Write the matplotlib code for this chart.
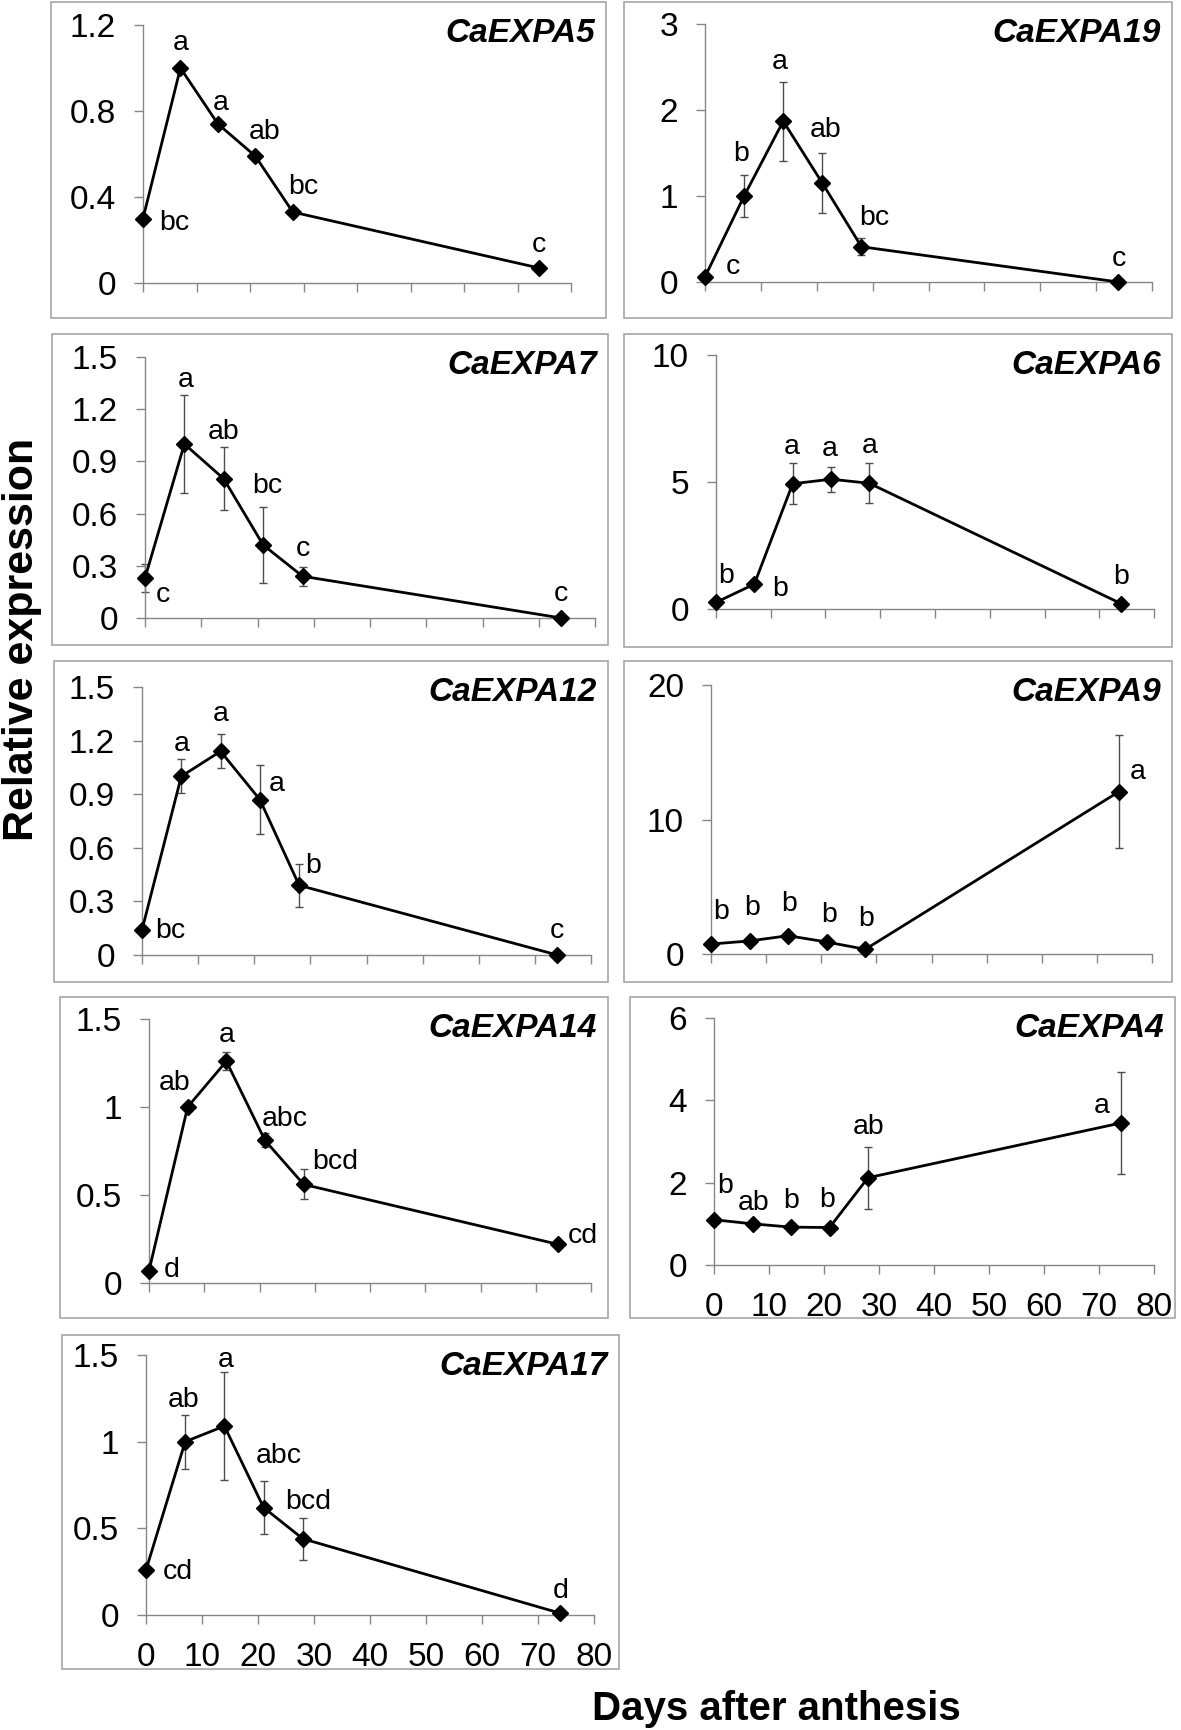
import matplotlib
matplotlib.use("Agg")
import matplotlib.pyplot as plt
from matplotlib.patches import Rectangle

plt.rcParams['font.family'] = ['Liberation Sans', 'DejaVu Sans']

# ── data ──
days = [0, 7, 14, 21, 28, 74]
x_ticks = [0, 10, 20, 30, 40, 50, 60, 70, 80]

genes = ["CaEXPA5", "CaEXPA19", "CaEXPA7", "CaEXPA6", "CaEXPA12",
         "CaEXPA9", "CaEXPA14", "CaEXPA4", "CaEXPA17"]

expa5 = [0.30, 1.00, 0.74, 0.59, 0.33, 0.07]
expa5_err = [0, 0, 0, 0, 0, 0]
expa5_sig = ["bc", "a", "a", "ab", "bc", "c"]

expa19 = [0.06, 1.00, 1.87, 1.15, 0.41, 0.0]
expa19_err = [0.03, 0.24, 0.46, 0.35, 0.10, 0]
expa19_sig = ["c", "b", "a", "ab", "bc", "c"]

expa7 = [0.23, 1.00, 0.80, 0.42, 0.24, 0.0]
expa7_err = [0.08, 0.28, 0.18, 0.22, 0.055, 0]
expa7_sig = ["c", "a", "ab", "bc", "c", "c"]

expa6 = [0.26, 0.98, 4.93, 5.11, 4.95, 0.21]
expa6_err = [0, 0, 0.8, 0.5, 0.78, 0]
expa6_sig = ["b", "b", "a", "a", "a", "b"]

expa12 = [0.14, 1.00, 1.14, 0.87, 0.39, 0.0]
expa12_err = [0, 0.095, 0.095, 0.195, 0.12, 0]
expa12_sig = ["bc", "a", "a", "a", "b", "c"]

expa9 = [0.74, 0.97, 1.36, 0.89, 0.35, 12.07]
expa9_err = [0, 0, 0, 0, 0, 4.2]
expa9_sig = ["b", "b", "b", "b", "b", "a"]

expa14 = [0.07, 1.00, 1.26, 0.81, 0.56, 0.22]
expa14_err = [0.02, 0, 0.05, 0.04, 0.085, 0]
expa14_sig = ["d", "ab", "a", "abc", "bcd", "cd"]

expa4 = [1.10, 1.00, 0.92, 0.91, 2.12, 3.45]
expa4_err = [0, 0, 0, 0, 0.75, 1.25]
expa4_sig = ["b", "ab", "b", "b", "ab", "a"]

expa17 = [0.26, 1.00, 1.09, 0.62, 0.44, 0.01]
expa17_err = [0, 0.155, 0.31, 0.155, 0.12, 0]
expa17_sig = ["cd", "ab", "a", "abc", "bcd", "d"]

y_ticks = [
    [0, 0.4, 0.8, 1.2],
    [0, 1, 2, 3],
    [0, 0.3, 0.6, 0.9, 1.2, 1.5],
    [0, 5, 10],
    [0, 0.3, 0.6, 0.9, 1.2, 1.5],
    [0, 10, 20],
    [0, 0.5, 1, 1.5],
    [0, 2, 4, 6],
    [0, 0.5, 1, 1.5],
]

values = [expa5, expa19, expa7, expa6, expa12, expa9, expa14, expa4, expa17]
errors = [expa5_err, expa19_err, expa7_err, expa6_err, expa12_err,
          expa9_err, expa14_err, expa4_err, expa17_err]
letters = [expa5_sig, expa19_sig, expa7_sig, expa6_sig, expa12_sig,
           expa9_sig, expa14_sig, expa4_sig, expa17_sig]

# ── layout (pixels in a 1181 x 1730 canvas) ──
W, H = 1181, 1730
# box: left, top, right, bottom ; axes: x0, x80, ytop, y0
boxes = [
    (51, 2, 606, 318), (624, 2, 1172, 318),
    (52, 334, 608, 645), (624, 334, 1172, 647),
    (54, 661, 608, 982), (624, 661, 1172, 982),
    (60, 997, 608, 1318), (630, 997, 1175, 1318),
    (62, 1335, 619, 1669),
]
axes_px = [
    (143, 571, 25, 283), (705, 1152, 24, 282),
    (145, 595, 357, 618), (716, 1154, 355, 609),
    (142, 591, 687, 955), (711, 1152, 685, 954),
    (149, 591, 1019, 1283), (714, 1154, 1018, 1265),
    (146, 594, 1355, 1615),
]
# letter offsets (pixels) from each point
offsets = [
    [(31, -5), (0, 25), (3, 21), (9, 24), (10, 25), (0, 23)],
    [(28, 10), (-3, 42), (-4, 59), (3, 53), (13, 29), (0, 23)],
    [(18, -17), (1, 64), (0, 47), (4, 59), (0, 27), (0, 24)],
    [(10, 26), (26, -5), (-1, 37), (-1, 30), (0, 37), (0, 27)],
    [(28, -1), (0, 32), (0, 37), (17, 16), (14, 19), (0, 24)],
    [(10, 32), (3, 33), (1, 32), (2, 27), (1, 30), (19, 20)],
    [(23, 1), (-13, 24), (0, 26), (20, 21), (32, 22), (25, 8)],
    [(11, 34), (1, 21), (0, 26), (-2, 28), (1, 51), (-19, 17)],
    [(32, -2), (-2, 42), (1, 66), (15, 52), (5, 37), (0, 22)],
]
show_xlabels = [False] * 7 + [True, True]

AXIS_C = "#868686"
BOX_C = "#a6a6a6"

fig = plt.figure(figsize=(W / 100, H / 100), dpi=100)

for i, gene in enumerate(genes):
    L, T, R, B = boxes[i]
    fig.patches.append(Rectangle((L / W, 1 - B / H), (R - L) / W, (B - T) / H,
                                 transform=fig.transFigure, fill=False,
                                 ec=BOX_C, lw=1.2))
    x0, x1, yt, yb = axes_px[i]
    ax = fig.add_axes([x0 / W, 1 - yb / H, (x1 - x0) / W, (yb - yt) / H])
    ax.patch.set_alpha(0)

    yv = values[i]
    ax.plot(days, yv, "-", color="black", lw=2, zorder=3, clip_on=False)
    ex = [d for d, e in zip(days, errors[i]) if e > 0]
    ey = [v for v, e in zip(yv, errors[i]) if e > 0]
    ee = [e for e in errors[i] if e > 0]
    if ee:
        ax.errorbar(ex, ey, yerr=ee, fmt="none", ecolor="#4d4d4d",
                    elinewidth=1, capsize=3, capthick=1, zorder=2, clip_on=False)
    ax.plot(days, yv, "D", color="black", markersize=8.5, zorder=4, clip_on=False)

    for d, v, s, (dx, dy) in zip(days, yv, letters[i], offsets[i]):
        ax.annotate(s, xy=(d, v), xytext=(dx, dy), textcoords="offset pixels",
                    ha="center", va="center", fontsize=20.5)

    ax.set_xlim(0, 80)
    ax.set_ylim(0, y_ticks[i][-1])
    ax.set_xticks(x_ticks)
    ax.set_yticks(y_ticks[i])
    ax.set_yticklabels([f"{t:g}" for t in y_ticks[i]])
    if not show_xlabels[i]:
        ax.set_xticklabels([])
    for side in ("top", "right"):
        ax.spines[side].set_visible(False)
    for side in ("left", "bottom"):
        ax.spines[side].set_color(AXIS_C)
        ax.spines[side].set_linewidth(1)
    ax.tick_params(direction="out", length=6.5, width=1, color=AXIS_C,
                   labelsize=24, pad=13)

    fig.text((R - 11) / W, 1 - (T + 40) / H, gene, ha="right", va="baseline",
             fontsize=24, fontweight="bold", fontstyle="italic")

fig.text(22 / W, 1 - 639 / H, "Relative expression", rotation=90,
         ha="center", va="center", fontsize=31, fontweight="bold")
fig.text(776 / W, 1 - 1720 / H, "Days after anthesis", ha="center",
         va="baseline", fontsize=29, fontweight="bold")

fig.savefig("out.png", dpi=100)
